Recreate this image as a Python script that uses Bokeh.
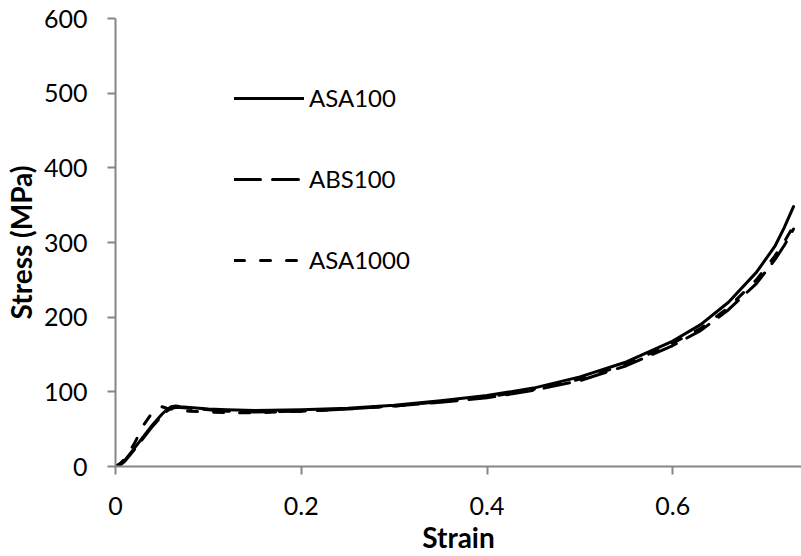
from bokeh.plotting import figure
from bokeh.models import Range1d, Legend, LegendItem, FixedTicker
from bokeh.embed import file_html
from bokeh.resources import INLINE

strain = [0, 0.005, 0.01, 0.02, 0.03, 0.04, 0.045, 0.05, 0.055, 0.06, 0.065, 0.07, 0.08,
          0.10, 0.12, 0.15, 0.20, 0.25, 0.30, 0.35, 0.40, 0.45, 0.50, 0.55, 0.60,
          0.63, 0.66, 0.69, 0.71, 0.72, 0.73]
asa100 = [0, 3, 8, 24, 40, 56, 63, 70, 76, 80, 81, 80, 79,
          77, 76, 75, 76, 78, 82, 88, 95, 105, 120, 140, 168,
          190, 220, 260, 295, 320, 348]
abs100 = [0, 2, 7, 22, 38, 54, 61, 68, 74, 78, 79, 79, 78,
          76, 74, 73, 74, 77, 81, 86, 92, 102, 115, 135, 162,
          182, 210, 245, 277, 296, 318]
asa1000 = [0, 4, 10, 30, 55, 73, 79, 80, 78, 77, 76, 75, 74,
           73, 72, 72, 74, 77, 81, 87, 93, 103, 117, 137, 165,
           185, 213, 250, 282, 301, 322]

x_ticks = [0, 0.2, 0.4, 0.6]
y_ticks = [0, 100, 200, 300, 400, 500, 600]
series_names = ["ASA100", "ABS100", "ASA1000"]

FONT = "Lato"
AXIS_COLOR = "#868686"

p = figure(width=801, height=556, output_backend="svg", toolbar_location=None,
           x_range=Range1d(0, 0.7386), y_range=Range1d(0, 600),
           min_border_left=113, min_border_right=0, min_border_top=18, min_border_bottom=89)
p.outline_line_color = None
p.xgrid.visible = False
p.ygrid.visible = False
p.background_fill_color = "white"

r1 = p.line(strain, asa100, line_color="black", line_width=3, line_cap="round", line_join="round")
r2 = p.line(strain, abs100, line_color="black", line_width=3, line_dash="26 12", line_cap="round")
r3 = p.line(strain, asa1000, line_color="black", line_width=3, line_dash="10 16", line_cap="round")

legend = Legend(items=[LegendItem(label=series_names[0], renderers=[r1]),
                       LegendItem(label=series_names[1], renderers=[r2]),
                       LegendItem(label=series_names[2], renderers=[r3])],
                location=(119, 192), glyph_width=70, glyph_height=20, label_height=20,
                spacing=52, padding=0, margin=0, label_standoff=5,
                label_text_font=FONT, label_text_font_size="24px", label_text_color="black",
                background_fill_alpha=0, border_line_alpha=0)
p.add_layout(legend, "center")

for ax in (p.xaxis, p.yaxis):
    ax.axis_line_color = AXIS_COLOR
    ax.axis_line_width = 2
    ax.major_tick_line_color = AXIS_COLOR
    ax.major_tick_line_width = 2
    ax.major_tick_out = 8
    ax.major_tick_in = 0
    ax.minor_tick_line_color = None
    ax.major_label_text_font = FONT
    ax.major_label_text_font_size = "25px"
    ax.major_label_text_color = "black"
    ax.axis_label_text_font = FONT
    ax.axis_label_text_font_size = "28px"
    ax.axis_label_text_font_style = "bold"
    ax.axis_label_text_color = "black"

p.xaxis.ticker = FixedTicker(ticks=x_ticks)
p.yaxis.ticker = FixedTicker(ticks=y_ticks)
p.xaxis.major_label_overrides = {0: "0", 0.2: "0.2", 0.4: "0.4", 0.6: "0.6"}
p.xaxis.axis_label = "Strain"
p.yaxis.axis_label = "Stress (MPa)"
p.xaxis.major_label_standoff = 22
p.yaxis.major_label_standoff = 20
p.xaxis.axis_label_standoff = 2
p.yaxis.axis_label_standoff = 3

open("out.html", "w").write(file_html(p, INLINE))
